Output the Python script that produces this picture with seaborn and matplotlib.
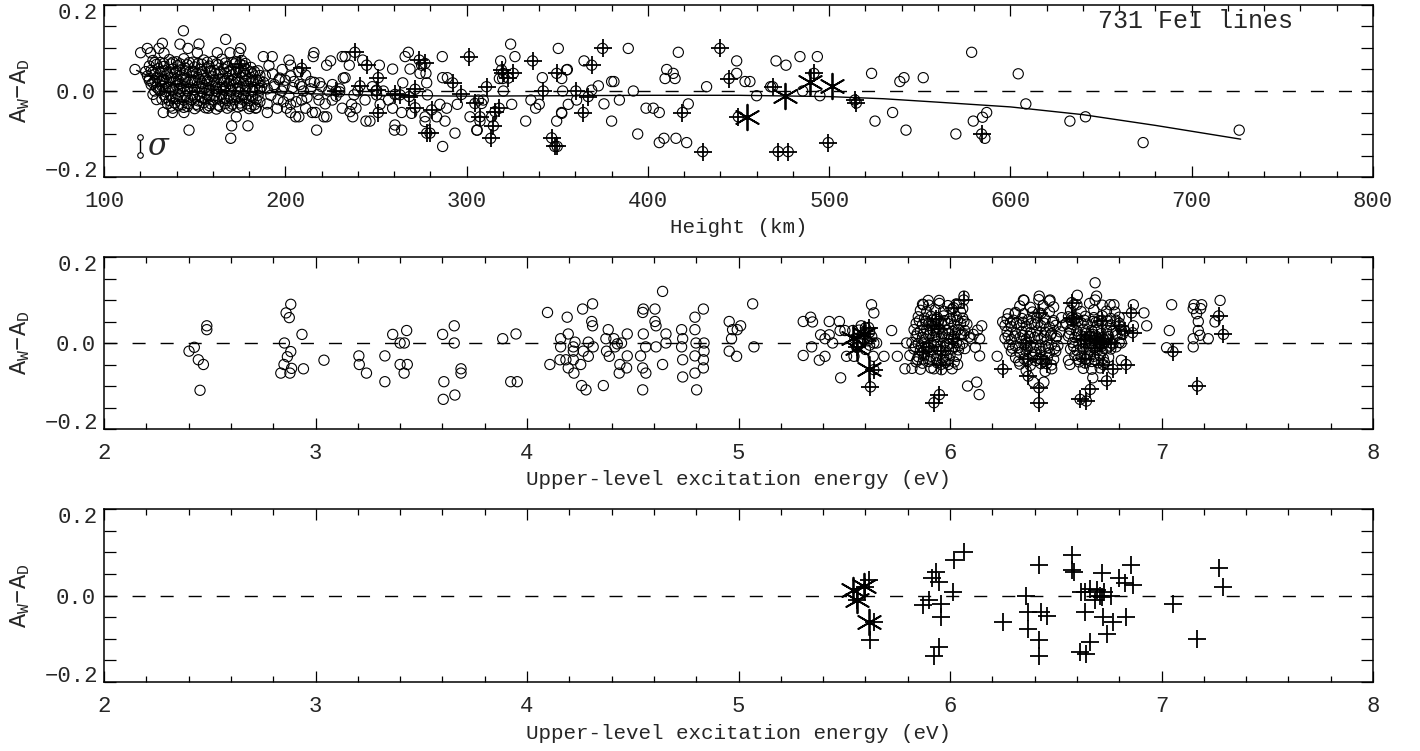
import matplotlib
matplotlib.use("Agg")
import matplotlib.pyplot as plt
import seaborn as sns
from matplotlib.ticker import MultipleLocator, FixedLocator, FixedFormatter

# ---------------- data ----------------
# Panel 1: height (km) vs A_W - A_D, dense core of lines
p1_core = [
    (127,0.071),(131,0.066),(136,0.073),(140,0.068),(144,0.075),(149,0.067),(155,0.072),(160,0.069),(165,0.074),(171,0.066),(176,0.071),
    (125,0.058),(129,0.062),(133,0.057),(137,0.063),(141,0.059),(146,0.061),(150,0.056),(154,0.062),(158,0.058),(163,0.061),(168,0.057),(172,0.063),(177,0.059),(181,0.055),
    (126,0.048),(130,0.052),(134,0.047),(138,0.051),(142,0.049),(145,0.053),(149,0.046),(153,0.050),(157,0.054),(161,0.048),(166,0.051),(170,0.047),(174,0.052),(179,0.049),(183,0.045),
    (128,0.039),(131,0.042),(135,0.038),(139,0.041),(143,0.037),(147,0.043),(151,0.040),(155,0.036),(159,0.042),(163,0.039),(167,0.041),(171,0.038),(175,0.043),(178,0.037),(182,0.040),(186,0.036),
    (125,0.029),(129,0.031),(133,0.027),(137,0.032),(140,0.028),(144,0.030),(148,0.026),(152,0.031),(156,0.029),(160,0.033),(164,0.027),(168,0.030),(172,0.028),(176,0.032),(180,0.029),(184,0.026),
    (127,0.019),(131,0.022),(134,0.018),(138,0.021),(142,0.017),(146,0.020),(150,0.023),(154,0.018),(158,0.021),(162,0.019),(166,0.022),(169,0.017),(173,0.020),(177,0.018),(181,0.021),(185,0.019),
    (129,0.009),(132,0.011),(136,0.008),(140,0.012),(144,0.010),(148,0.007),(152,0.011),(156,0.009),(160,0.012),(164,0.008),(167,0.010),(171,0.013),(175,0.009),(179,0.011),(183,0.008),(187,0.010),
    (131,0.001),(134,-0.002),(138,0.002),(142,-0.001),(146,0.000),(150,0.003),(154,-0.002),(158,0.001),(162,-0.001),(166,0.002),(170,0.000),(174,-0.002),(178,0.001),(182,-0.001),(186,0.002),
    (133,-0.009),(137,-0.012),(141,-0.008),(145,-0.011),(149,-0.010),(153,-0.013),(157,-0.009),(161,-0.011),(165,-0.008),(169,-0.012),(173,-0.010),(177,-0.009),(181,-0.012),(185,-0.010),
    (132,-0.019),(136,-0.022),(140,-0.018),(144,-0.021),(148,-0.020),(152,-0.023),(156,-0.019),(160,-0.021),(164,-0.018),(168,-0.022),(172,-0.020),(176,-0.019),(180,-0.022),(184,-0.020),
    (135,-0.030),(139,-0.028),(143,-0.032),(147,-0.029),(151,-0.031),(155,-0.027),(159,-0.030),(163,-0.033),(167,-0.029),(171,-0.031),(175,-0.028),(179,-0.030),(183,-0.032),
    (138,-0.040),(144,-0.038),(150,-0.041),(156,-0.039),(162,-0.042),(168,-0.040),(174,-0.037),(180,-0.041),(184,-0.039),
    (123,0.045),(124,0.035),(126,0.015),(128,0.000),(125,0.025),(127,-0.008),(129,-0.020),
]
p1_core_b = [
    (128,0.066),(133,0.064),(138,0.067),(142,0.063),(147,0.066),(152,0.064),(157,0.067),(162,0.063),(167,0.065),(173,0.068),(178,0.064),
    (127,0.044),(132,0.046),(136,0.043),(140,0.045),(145,0.047),(149,0.042),(154,0.045),(159,0.047),(164,0.044),(169,0.046),(173,0.043),(177,0.046),(181,0.044),(185,0.047),
    (128,0.024),(132,0.026),(136,0.023),(141,0.025),(145,0.027),(149,0.024),(153,0.026),(157,0.023),(161,0.025),(165,0.027),(170,0.024),(174,0.026),(178,0.023),(182,0.025),(186,0.024),
    (130,0.005),(134,0.007),(138,0.004),(142,0.006),(146,0.005),(150,0.003),(154,0.006),(158,0.004),(162,0.007),(166,0.005),(170,0.004),(174,0.006),(178,0.005),(182,0.003),(186,0.006),
    (134,-0.015),(138,-0.016),(142,-0.014),(146,-0.017),(150,-0.015),(154,-0.016),(158,-0.014),(162,-0.017),(166,-0.015),(170,-0.016),(174,-0.014),(178,-0.016),(182,-0.015),
    (137,-0.035),(141,-0.034),(146,-0.036),(152,-0.035),(158,-0.034),(164,-0.036),(170,-0.035),(176,-0.034),(181,-0.036),
]

# Panel 1: scattered lines outside the core
p1_spread = [
    (117.1,0.05),(120.2,0.089),(123.9,0.099),(125.7,0.089),(130.3,0.099),(132.2,0.111),(133.1,0.088),(143.8,0.14),(141.9,0.109),
    (146.3,0.099),(152.4,0.109),(151.5,0.089),(167.1,0.12),(162.5,0.089),(169.5,0.089),(175.4,0.099),(174.4,0.089),(187.9,0.08),
    (192.8,0.08),(191.0,0.059),(198.3,0.05),(202.0,0.072),(202.9,0.06),(207.5,0.045),(211.2,0.037),(215.8,0.089),(215.4,0.08),
    (222.8,0.06),(225.0,0.07),(231.4,0.08),(232.0,0.03),(218.9,0.019),(214.0,0.022),(209.0,0.01),(204.8,0.022),(199.3,0.01),
    (196.5,0.026),(193.8,0.01),(132.7,-0.05),(137.7,-0.05),(144.1,-0.05),(146.9,-0.091),(157.5,-0.04),(170.4,-0.081),(169.9,-0.11),
    (173.0,-0.06),(179.4,-0.081),(183.6,-0.04),(190.1,-0.05),(195.6,-0.04),(200.7,-0.04),(202.9,-0.05),(205.7,-0.06),(207.5,-0.06),
    (211.2,-0.04),(214.9,-0.05),(216.7,-0.05),(217.3,-0.091),(221.3,-0.06),(222.8,-0.06),(218.6,-0.021),(225.9,-0.021),(231.4,-0.04),
    (209.0,-0.021),(202.9,-0.031),
    (188,0.02),(190,0.005),(192,-0.01),(194,0.015),(196,-0.02),(198,0.0),(200,0.025),(202,-0.012),(204,0.008),(206,-0.025),
    (208,0.015),(210,0.0),(212,-0.015),(214,0.005),(216,0.02),(218,-0.008),(220,0.01),(222,-0.03),(224,0.0),(226,0.015),
    (228,-0.012),(230,0.005),(189,0.035),(193,0.04),(197,0.03),(186,-0.025),(190,-0.03),(199,-0.025),(203,0.035),
    (233.0,0.08),(235.3,0.06),(233.0,0.031),(236.6,-0.031),(235.7,-0.048),(239.0,-0.04),(237.2,-0.06),(237.9,-0.009),(242.7,0.072),
    (244.0,-0.021),(244.5,-0.07),(246.7,-0.07),(248.0,0.01),(250.4,-0.009),(251.9,0.06),(252.3,-0.031),(254.1,0.0),(256.9,-0.021),
    (259.2,0.051),(259.2,-0.04),(260.5,-0.079),(260.2,-0.091),(264.2,-0.091),(264.8,0.019),(264.2,-0.05),(266.1,0.08),(267.9,0.09),
    (268.8,0.051),(269.7,-0.052),(274.3,0.041),(275.2,0.06),(277.1,-0.06),(277.6,0.041),(278.0,0.019),(278.4,-0.009),(277.1,-0.071),
    (283.5,-0.06),(285.3,-0.031),(286.6,0.08),(286.8,0.031),(288.1,-0.07),(289.0,-0.04),(289.4,0.031),(293.6,-0.098),(294.9,-0.031),
    (286.8,-0.129),(301.9,-0.06),(305.9,-0.091),(307.4,-0.07),(309.2,-0.021),(313.8,-0.06),(318.8,0.07),(319.9,0.029),(320.3,0.0),
    (324.3,0.109),(324.9,-0.031),(326.7,0.08),(332.6,-0.07),(335.5,-0.021),(338.1,-0.04),(340.1,-0.031),(341.8,0.031),(349.7,-0.07),
    (350.6,0.099),(352.4,-0.05),(355.6,0.05),(353.0,0.0),(356.1,-0.031),(360.7,-0.021),(250.0,0.0),(240.0,0.0),(230.0,-0.002),
    (318.1,0.029),(305.6,-0.091),(306.5,-0.021),(308.3,-0.029),(352.5,0.029),(352.5,-0.052),(355.2,0.049),(364.8,0.07),
    (369.0,0.002),(372.7,0.012),(375.8,-0.03),(380.0,0.022),(381.3,0.022),(380.0,-0.07),(384.3,-0.021),(389.2,0.099),(392.0,0.0),
    (394.4,-0.1),(399.0,-0.04),(403.0,-0.04),(406.3,-0.05),(406.3,-0.12),(408.9,-0.11),(409.5,0.029),(410.4,0.05),(414.0,0.041),
    (415.0,0.029),(416.8,0.09),(415.5,-0.11),(421.4,-0.12),(422.3,-0.03),(432.4,0.01),(449.0,0.07),(449.0,0.041),(453.6,0.022),
    (456.3,0.022),(460.0,-0.011),(467.7,0.01),(470.7,0.07),(476.2,0.06),(483.9,0.08),(485.4,0.0),(493.5,0.08),(494.9,-0.011),
    (523.4,0.041),(525.3,-0.07),(535.0,-0.05),(539.0,0.022),(541.3,0.031),(542.4,-0.091),(551.9,0.031),
    (569.9,-0.1),(578.6,0.09),(579.5,-0.07),(584.6,-0.061),(586.9,-0.05),(585.9,-0.11),(604.3,0.04),(608.5,-0.03),
    (632.8,-0.07),(641.4,-0.06),(673.2,-0.12),(726.2,-0.091),
]

# Panel 1: lines marked with a plus sign and with an asterisk
p1_plus = [
    (175,0.063),(209,0.053),(228,0.0),(238.4,0.09),(241.2,0.012),(244.9,0.06),(251.3,0.031),(250.4,0.002),(251.3,-0.05),
    (260.5,-0.008),(263.3,-0.009),(268.4,-0.013),(271.6,0.004),(271.6,-0.039),(273.9,0.072),(277.1,0.064),(278,-0.098),
    (279.8,-0.098),(280.7,-0.044),(292.3,0.019),(297.2,-0.008),(301.5,0.08),(304.6,-0.029),(307.4,-0.06),(311,0.01),
    (313.3,-0.11),(314.8,-0.081),(315.7,-0.048),(318,-0.04),(319.3,0.049),(320.2,0.041),(323,0.03),(325.8,0.041),
    (336.4,0.07),(342.3,0.0),(346.9,-0.109),(348.7,-0.129),(350,-0.129),(349.7,0.041),(360.3,0.0),(364.4,-0.05),
    (367.1,-0.013),(369,0.06),(375,0.099),(419.1,-0.05),(430.2,-0.141),(439.7,0.099),(444.8,0.029),(449.9,-0.06),
    (468.8,0.01),(471.9,-0.141),(477.4,-0.141),(491.6,0.041),(499.5,-0.12),(514.2,-0.021),(515,-0.028),(584.1,-0.1),
]
p1_star = [(454.5,-0.06),(475.6,-0.012),(489.4,0.022),(501.4,0.012)]

# Polynomial fit drawn in panel 1
fit_height = [118, 125, 135, 150, 170, 200, 250, 300, 400, 450, 500, 530, 560, 600, 640, 680, 727]
fit_diff = [0.048, 0.034, 0.020, 0.008, 0.0, -0.005, -0.010, -0.012, -0.010, -0.010, -0.013, -0.018,
            -0.026, -0.037, -0.055, -0.080, -0.112]

# Panel 2: upper-level excitation energy (eV) vs A_W - A_D
p2_spread = [
    (2.402,-0.019),(2.427,-0.01),(2.446,-0.039),(2.47,-0.05),(2.454,-0.11),(2.486,0.04),(2.486,0.031),
    (2.836,-0.07),(2.851,-0.05),(2.853,0.0),(2.861,0.07),(2.876,0.059),(2.883,0.09),(2.867,-0.032),(2.883,-0.02),
    (2.887,-0.059),(2.879,-0.07),(2.936,0.02),(2.943,-0.06),(3.04,-0.04),
    (3.205,-0.03),(3.207,-0.05),(3.241,-0.07),(3.328,-0.03),(3.328,-0.09),(3.365,0.02),(3.4,0.0),(3.42,0.0),(3.4,-0.05),
    (3.419,-0.07),(3.431,0.029),(3.434,-0.05),
    (3.601,0.02),(3.607,-0.09),(3.604,-0.131),(3.656,0.04),(3.656,0.0),(3.659,-0.121),(3.688,-0.06),(3.688,-0.07),
    (3.885,0.01),(3.948,0.021),(3.923,-0.09),(3.954,-0.09),
    (4.097,0.071),(4.108,-0.05),(4.159,0.01),(4.159,-0.009),(4.156,-0.039),(4.19,0.06),(4.195,0.021),(4.184,-0.039),
    (4.195,-0.058),(4.219,-0.009),(4.219,-0.019),(4.219,-0.039),(4.227,0.002),(4.222,-0.07),(4.254,-0.05),(4.258,-0.099),
    (4.263,0.079),(4.266,-0.019),(4.279,-0.109),(4.29,0.002),(4.29,-0.031),(4.306,0.05),(4.31,0.091),(4.31,0.04),
    (4.313,-0.009),(4.361,-0.099),(4.373,0.01),(4.384,0.031),(4.376,-0.019),(4.389,-0.031),(4.411,0.01),(4.416,-0.009),
    (4.427,-0.002),(4.439,-0.05),(4.436,-0.07),(4.447,0.0),(4.474,0.021),(4.474,-0.03),(4.471,-0.058),(4.537,-0.03),
    (4.547,0.071),(4.55,0.079),(4.55,0.021),(4.547,-0.058),(4.561,-0.009),(4.562,-0.07),(4.547,-0.109),(4.605,0.079),
    (4.605,0.05),(4.61,0.04),(4.61,-0.009),(4.641,0.12),(4.641,-0.05),(4.657,0.021),(4.657,0.0),(4.731,0.031),
    (4.736,0.01),(4.731,-0.009),(4.736,-0.039),(4.736,-0.079),(4.794,0.06),(4.794,0.031),(4.799,0.0),(4.794,-0.03),
    (4.794,-0.07),(4.802,-0.109),(4.834,0.079),(4.837,0.0),(4.837,-0.019),(4.834,-0.039),(4.834,-0.058),(4.956,0.05),
    (4.972,0.031),(4.967,0.01),(4.994,0.031),(5.01,0.04),(4.956,-0.019),(4.991,-0.031),(5.067,0.091),(5.073,-0.009),
    (5.306,-0.029),(5.306,0.05),(5.341,0.06),(5.35,0.049),(5.346,-0.009),(5.382,-0.04),(5.388,0.019),(5.409,0.01),
    (5.409,-0.031),(5.429,0.05),(5.429,0.019),(5.445,0.0),(5.477,0.05),(5.48,0.029),(5.483,-0.081),(5.503,0.029),
    (5.511,-0.031),(5.54,0.029),(5.546,-0.031),(5.629,0.089),(5.64,0.07),(5.637,-0.031),(5.653,0.0),(5.688,-0.031),
    (5.724,0.029),(5.751,-0.031),(5.787,-0.06),(5.795,0.0),
    (5.55,0.01),(5.57,0.03),(5.58,0.0),(5.59,0.02),(5.6,0.035),(5.61,0.005),(5.62,0.025),(5.63,0.015),(5.56,-0.01),
    (5.6,-0.015),(5.64,0.0),(5.58,0.04),(5.62,-0.005),
    (5.874,0.089),(5.897,0.099),(5.949,0.099),(5.924,-0.06),(5.992,-0.05),(6.036,-0.05),(6.066,0.109),(6.066,0.05),
    (6.066,0.019),(6.06,0.08),(6.083,-0.1),(6.126,-0.091),(6.138,-0.12),(6.1,0.01),(6.11,0.02),(6.13,0.03),(6.14,0.01),
    (6.15,0.04),(6.14,-0.03),(6.12,-0.01),(6.223,-0.031),
    (6.249,0.049),(6.276,0.068),(6.307,0.068),(6.347,0.1),(6.422,0.109),(6.473,0.1),(6.394,-0.091),(6.444,-0.091),(6.481,-0.06),
    (6.528,0.059),(6.533,0.04),(6.56,-0.04),(6.567,-0.05),(6.602,0.111),(6.586,0.089),(6.686,0.14),(6.693,0.109),(6.686,0.1),
    (6.675,-0.081),(6.757,0.089),(6.775,0.089),(6.867,0.089),(6.917,0.07),(6.93,0.04),(6.867,0.04),(6.81,0.0),(6.815,0.02),(6.81,-0.04),
    (7.048,0.089),(7.037,0.029),(7.024,-0.011),(7.154,0.089),(7.19,0.089),(7.15,0.08),(7.185,0.08),(7.166,0.068),
    (7.174,0.05),(7.174,0.029),(7.15,0.01),(7.15,-0.009),(7.182,0.018),(7.221,0.01),(7.253,0.049),(7.277,0.099),
]

# Panel 2: the three dense groups of lines
p2_group_a = [
    (5.87,0.09),(5.90,0.088),(5.95,0.092),(5.99,0.087),(6.03,0.091),
    (5.86,0.076),(5.89,0.073),(5.93,0.077),(5.97,0.074),(6.01,0.078),(6.05,0.072),
    (5.85,0.061),(5.88,0.058),(5.91,0.062),(5.94,0.059),(5.97,0.063),(6.00,0.057),(6.03,0.061),(6.06,0.058),
    (5.84,0.046),(5.87,0.043),(5.90,0.047),(5.93,0.044),(5.96,0.048),(5.99,0.045),(6.02,0.042),(6.05,0.046),(6.08,0.044),
    (5.83,0.031),(5.86,0.028),(5.89,0.032),(5.92,0.029),(5.95,0.033),(5.98,0.030),(6.01,0.027),(6.04,0.031),(6.07,0.029),
    (5.84,0.016),(5.87,0.013),(5.90,0.017),(5.93,0.014),(5.96,0.016),(5.99,0.012),(6.02,0.015),(6.05,0.018),(6.09,0.014),
    (5.82,0.001),(5.85,-0.002),(5.88,0.002),(5.91,-0.001),(5.94,0.003),(5.97,0.0),(6.00,-0.002),(6.03,0.001),(6.06,-0.001),
    (5.83,-0.014),(5.86,-0.017),(5.89,-0.013),(5.92,-0.016),(5.95,-0.015),(5.98,-0.018),(6.01,-0.014),(6.04,-0.016),(6.07,-0.013),
    (5.81,-0.029),(5.85,-0.032),(5.88,-0.028),(5.91,-0.031),(5.94,-0.030),(5.97,-0.033),(6.00,-0.029),(6.03,-0.031),
    (5.84,-0.044),(5.87,-0.047),(5.90,-0.043),(5.94,-0.046),(5.98,-0.045),(6.02,-0.044),
    (5.82,-0.059),(5.86,-0.061),(5.91,-0.058),(5.96,-0.062),(6.01,-0.060),
    (5.855,0.052),(5.885,0.051),(5.915,0.053),(5.945,0.050),(5.975,0.052),(6.005,0.051),(6.035,0.053),
    (5.845,0.022),(5.875,0.021),(5.905,0.023),(5.935,0.020),(5.965,0.022),(5.995,0.021),(6.025,0.023),(6.055,0.020),
    (5.835,-0.008),(5.865,-0.007),(5.895,-0.009),(5.925,-0.006),(5.955,-0.008),(5.985,-0.007),(6.015,-0.009),(6.045,-0.006),
    (5.845,-0.038),(5.875,-0.037),(5.905,-0.039),(5.935,-0.036),(5.965,-0.038),(5.995,-0.037),
]
p2_group_b = [
    (6.35,0.099),(6.42,0.101),(6.47,0.098),
    (6.33,0.086),(6.38,0.083),(6.44,0.087),(6.49,0.084),
    (6.31,0.071),(6.35,0.068),(6.39,0.072),(6.43,0.069),(6.47,0.073),
    (6.27,0.056),(6.30,0.053),(6.34,0.057),(6.37,0.054),(6.41,0.058),(6.45,0.055),(6.49,0.052),
    (6.26,0.041),(6.29,0.038),(6.33,0.042),(6.36,0.039),(6.40,0.043),(6.43,0.040),(6.47,0.037),(6.50,0.041),
    (6.27,0.026),(6.31,0.023),(6.34,0.027),(6.38,0.024),(6.41,0.028),(6.45,0.025),(6.48,0.022),(6.52,0.026),
    (6.26,0.011),(6.29,0.008),(6.33,0.012),(6.36,0.009),(6.40,0.013),(6.43,0.010),(6.46,0.007),(6.50,0.011),
    (6.28,-0.004),(6.31,-0.007),(6.35,-0.003),(6.38,-0.006),(6.41,-0.005),(6.45,-0.008),(6.48,-0.004),(6.51,-0.006),
    (6.29,-0.019),(6.33,-0.022),(6.36,-0.018),(6.40,-0.021),(6.43,-0.020),(6.47,-0.023),(6.50,-0.019),
    (6.31,-0.034),(6.35,-0.037),(6.39,-0.033),(6.42,-0.036),(6.46,-0.035),(6.49,-0.038),
    (6.33,-0.049),(6.38,-0.052),(6.43,-0.048),(6.48,-0.051),
    (6.36,-0.064),(6.45,-0.066),
    (6.285,0.047),(6.315,0.046),(6.345,0.048),(6.385,0.045),(6.415,0.047),(6.445,0.046),(6.485,0.048),
    (6.275,0.017),(6.305,0.016),(6.345,0.018),(6.375,0.015),(6.415,0.017),(6.445,0.016),(6.475,0.018),(6.505,0.015),
    (6.295,-0.012),(6.325,-0.011),(6.365,-0.013),(6.395,-0.010),(6.425,-0.012),(6.465,-0.011),(6.495,-0.013),
    (6.325,-0.042),(6.365,-0.043),(6.405,-0.041),(6.445,-0.042),
]
p2_group_c = [
    (6.60,0.089),(6.66,0.092),(6.72,0.088),
    (6.57,0.076),(6.62,0.073),(6.68,0.077),(6.74,0.074),(6.78,0.072),
    (6.56,0.061),(6.60,0.058),(6.64,0.062),(6.68,0.059),(6.72,0.063),(6.76,0.057),(6.80,0.060),
    (6.55,0.046),(6.58,0.043),(6.62,0.047),(6.65,0.044),(6.69,0.048),(6.72,0.045),(6.76,0.042),(6.80,0.046),
    (6.57,0.031),(6.60,0.028),(6.63,0.032),(6.67,0.029),(6.70,0.033),(6.74,0.030),(6.77,0.027),(6.81,0.031),
    (6.56,0.016),(6.59,0.013),(6.62,0.017),(6.66,0.014),(6.69,0.016),(6.72,0.012),(6.75,0.015),(6.79,0.018),
    (6.58,0.001),(6.61,-0.002),(6.64,0.002),(6.67,-0.001),(6.70,0.003),(6.73,0.0),(6.77,-0.002),(6.80,0.001),
    (6.57,-0.014),(6.60,-0.017),(6.63,-0.013),(6.66,-0.016),(6.69,-0.015),(6.72,-0.018),(6.76,-0.014),
    (6.59,-0.029),(6.62,-0.032),(6.65,-0.028),(6.68,-0.031),(6.71,-0.030),(6.75,-0.033),
    (6.61,-0.044),(6.64,-0.047),(6.67,-0.043),(6.70,-0.046),(6.73,-0.045),
    (6.63,-0.059),(6.67,-0.061),(6.71,-0.058),
    (6.575,0.052),(6.605,0.051),(6.635,0.053),(6.675,0.050),(6.705,0.052),(6.745,0.051),(6.785,0.053),
    (6.565,0.022),(6.605,0.021),(6.645,0.023),(6.675,0.020),(6.715,0.022),(6.745,0.021),(6.785,0.023),
    (6.585,-0.008),(6.625,-0.007),(6.655,-0.009),(6.685,-0.006),(6.715,-0.008),(6.755,-0.007),(6.785,-0.009),
    (6.605,-0.038),(6.645,-0.037),(6.685,-0.039),(6.725,-0.036),
]

# Panels 2 and 3: lines marked with a plus sign and with an asterisk
p3_plus = [
    (5.615,0.036),(5.624,-0.102),(5.64,-0.062),(5.60,0.02),(5.56,-0.01),(5.87,-0.022),(5.913,0.04),(5.935,0.055),
    (5.946,0.032),(5.957,-0.019),(5.957,-0.05),(5.924,-0.139),(5.95,-0.12),(5.90,-0.01),(6.015,0.0085),(6.017,0.082),
    (6.065,0.1),(6.25,-0.061),(6.36,0.0),(6.37,-0.077),(6.37,-0.038),(6.42,0.07),(6.42,-0.104),(6.42,-0.139),
    (6.428,-0.038),(6.457,-0.048),(6.576,0.094),(6.576,0.059),(6.587,0.055),(6.62,0.0085),(6.64,-0.038),(6.615,-0.131),
    (6.645,-0.135),(6.663,-0.108),(6.663,0.016),(6.685,-0.011),(6.707,0.0),(6.717,0.051),(6.724,-0.05),(6.74,-0.088),
    (6.76,0.0),(6.77,-0.061),(6.8,0.04),(6.826,0.028),(6.833,-0.05),(6.858,0.07),(6.863,0.024),(7.054,-0.02),
    (7.17,-0.1),(7.27,0.063),(7.293,0.02),(6.696,0.012),(6.717,-0.003),(6.728,0.008),(6.64,0.008),
]
p3_star = [(5.543,0.012),(5.56,-0.011),(5.593,0.022),(5.617,-0.061)]

height_ticks = [100, 200, 300, 400, 500, 600, 700, 800]
energy_ticks = [2, 3, 4, 5, 6, 7, 8]
diff_ticks = [-0.2, 0.0, 0.2]
diff_tick_labels = ["\u22120.2", "0.0", "0.2"]

# ---------------- style ----------------
sns.set_style("ticks")
plt.rcParams["font.family"] = ["Liberation Mono", "DejaVu Sans"]
plt.rcParams["mathtext.fontset"] = "custom"
plt.rcParams["mathtext.rm"] = "Liberation Mono"
plt.rcParams["mathtext.it"] = "Liberation Mono"
plt.rcParams["mathtext.default"] = "rm"

fig = plt.figure(figsize=(14.2, 7.51), dpi=100)
L, W = 104 / 1420, 1269 / 1420
ax1 = fig.add_axes([L, (751 - 177) / 751, W, 172 / 751])
ax2 = fig.add_axes([L, (751 - 429) / 751, W, 172 / 751])
ax3 = fig.add_axes([L, (751 - 682) / 751, W, 173 / 751])

CIRC = dict(marker="o", s=54, facecolor="none", edgecolor="black", color="black",
            linewidth=0.8, legend=False, zorder=3)
PLUS = dict(marker="+", s=160, color="black", linewidth=1.3, legend=False, zorder=4)
STAR = dict(marker=(6, 2, 0), s=340, color="black", linewidth=1.3, legend=False, zorder=5)


def xy(points):
    return [p[0] for p in points], [p[1] for p in points]


def style(ax, xlim, xticks, xminor, xlabel):
    ax.set_xlim(*xlim)
    ax.set_ylim(-0.2, 0.2)
    ax.xaxis.set_major_locator(FixedLocator(xticks))
    ax.xaxis.set_major_formatter(FixedFormatter([str(t) for t in xticks]))
    ax.xaxis.set_minor_locator(MultipleLocator(xminor))
    ax.yaxis.set_major_locator(FixedLocator(diff_ticks))
    # the end labels are drawn slightly inside the frame, as in the reference
    ax.yaxis.set_major_formatter(FixedFormatter(["", diff_tick_labels[1], ""]))
    ytr = ax.get_yaxis_transform()
    ax.text(-0.0047, -0.188, diff_tick_labels[0], transform=ytr, ha="right", va="center", fontsize=16)
    ax.text(-0.0047, 0.181, diff_tick_labels[2], transform=ytr, ha="right", va="center", fontsize=16)
    ax.yaxis.set_minor_locator(MultipleLocator(0.05))
    ax.tick_params(axis="both", which="both", direction="in", top=True, right=True,
                   width=0.9, color="black")
    ax.tick_params(axis="x", which="major", length=8, pad=10, labelsize=16)
    ax.tick_params(axis="x", which="minor", length=4)
    ax.tick_params(axis="y", which="both", length=8.5)
    ax.tick_params(axis="y", which="major", pad=6, labelsize=16)
    for s in ax.spines.values():
        s.set_linewidth(1.1)
        s.set_color("black")
    ax.axhline(0, color="black", lw=1.0, ls=(0, (9.4, 10.8)), zorder=1)
    ax.set_xlabel(xlabel, fontsize=15)
    ax.xaxis.set_label_coords(0.5, -0.2965)
    ax.xaxis.label.set_va("center")
    ax.set_ylabel(r"A$_\mathrm{W}$$-$A$_\mathrm{D}$", fontsize=17)
    ax.yaxis.set_label_coords(-0.066, 0.5)
    ax.yaxis.label.set_va("center")


# Panel 1
for pts in (p1_core, p1_core_b, p1_spread, p1_plus):
    x, y = xy(pts)
    sns.scatterplot(x=x, y=y, ax=ax1, **CIRC)
x, y = xy(p1_plus)
sns.scatterplot(x=x, y=y, ax=ax1, **PLUS)
x, y = xy(p1_star)
sns.scatterplot(x=x, y=y, ax=ax1, **STAR)
sns.lineplot(x=fit_height, y=fit_diff, ax=ax1, color="black", lw=1.0, sort=False, zorder=2)
ax1.plot([120, 120], [-0.106, -0.149], color="black", lw=1.0, marker="o", ms=4,
         mfc="white", mec="black", mew=0.8)
ax1.text(124, -0.128, "\u03c3", fontsize=22, style="italic", family="DejaVu Serif",
         va="center", ha="left")
ax1.text(702, 0.162, "731 FeI lines", fontsize=18, ha="center", va="center")
style(ax1, (100, 800), height_ticks, 20, "Height (km)")

# Panel 2
for pts in (p2_spread, p2_group_a, p2_group_b, p2_group_c, p3_plus):
    x, y = xy(pts)
    sns.scatterplot(x=x, y=y, ax=ax2, **CIRC)
x, y = xy(p3_plus)
sns.scatterplot(x=x, y=y, ax=ax2, **PLUS)
x, y = xy(p3_star)
sns.scatterplot(x=x, y=y, ax=ax2, **STAR)
style(ax2, (2, 8), energy_ticks, 0.2, "Upper-level excitation energy (eV)")

# Panel 3
x, y = xy(p3_plus)
sns.scatterplot(x=x, y=y, ax=ax3, **PLUS)
x, y = xy(p3_star)
sns.scatterplot(x=x, y=y, ax=ax3, **STAR)
style(ax3, (2, 8), energy_ticks, 0.2, "Upper-level excitation energy (eV)")

fig.savefig("out.png", dpi=100)
